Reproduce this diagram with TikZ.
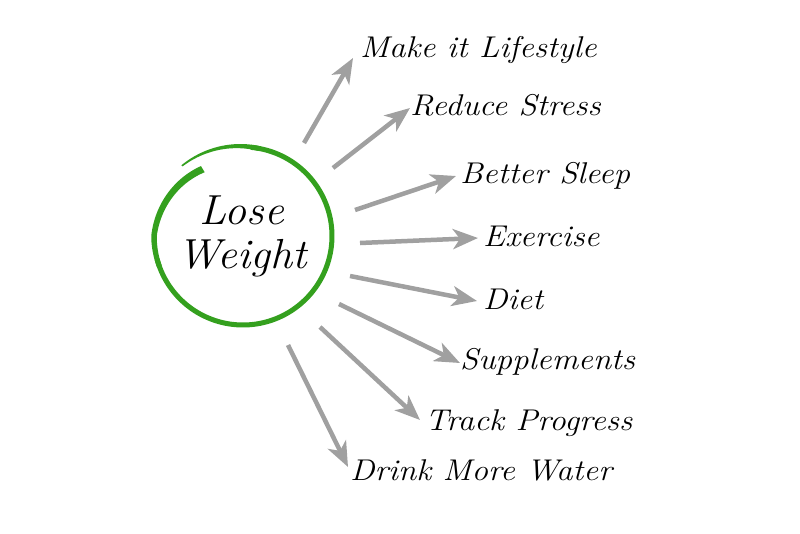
\documentclass[tikz,border=0pt]{standalone}
\usetikzlibrary{arrows.meta}
\definecolor{ringgreen}{RGB}{52,160,30}
\definecolor{arrowgray}{RGB}{160,160,160}
\begin{document}
\begin{tikzpicture}[x=1pt,y=-1pt,
  declare function={
    rA(\t)=78+11*min(1,(\t-121)/59);
    wA(\t)=3.6-1.1*(\t-121)/79;
    rE(\t)=89+4*(\t-440)/51;
    wE(\t)=2.5-1.7*(\t-440)/51;
  },
  lbl/.style={anchor=west,inner sep=0pt,xscale=1.1,font=\fontsize{30}{33}\selectfont\itshape},
  ptr/.style={draw=arrowgray,line width=4.5pt,-{Stealth[length=25pt,width=20pt,inset=7pt]}},
  ring/.style={fill=ringgreen}]
\useasboundingbox (0,0) rectangle (800,533);
% central hand-drawn ring (spiral-like stroke)
\fill[ring] plot[smooth,samples=40,domain=121:200] ({243+(rA(\x)+wA(\x))*cos(\x)},{236-(rA(\x)+wA(\x))*sin(\x)})
  -- plot[smooth,samples=40,domain=200:121] ({243+(rA(\x)-wA(\x))*cos(\x)},{236-(rA(\x)-wA(\x))*sin(\x)}) -- cycle;
\draw[draw=ringgreen,line width=5pt] plot[smooth,samples=120,domain=195:445] ({243+89*cos(\x)},{236-89*sin(\x)});
\fill[ring] plot[smooth,samples=30,domain=440:491] ({243+(rE(\x)+wE(\x))*cos(\x)},{236-(rE(\x)+wE(\x))*sin(\x)})
  -- plot[smooth,samples=30,domain=491:440] ({243+(rE(\x)-wE(\x))*cos(\x)},{236-(rE(\x)-wE(\x))*sin(\x)}) -- cycle;
\node[inner sep=0pt,xscale=1.05,font=\fontsize{42}{46}\selectfont\itshape,align=center] (center) at (242,236) {Lose\\[-2pt]Weight};
% labels
\node[lbl] (l1) at (360,50) {Make it Lifestyle};
\node[lbl] (l2) at (410,105) {Reduce Stress};
\node[lbl] (l3) at (460,176) {Better Sleep};
\node[lbl] (l4) at (483,236) {Exercise};
\node[lbl] (l5) at (483,299) {Diet};
\node[lbl] (l6) at (460,362) {Supplements};
\node[lbl] (l7) at (425,423) {Track Progress};
\node[lbl] (l8) at (350,470) {Drink More Water};
% arrow ends
\coordinate (t1) at (304,143); \coordinate (h1) at (353,58);
\coordinate (t2) at (333,168); \coordinate (h2) at (410,108);
\coordinate (t3) at (355,210); \coordinate (h3) at (456,176);
\coordinate (t4) at (360,243); \coordinate (h4) at (478,238);
\coordinate (t5) at (350,276); \coordinate (h5) at (477,301);
\coordinate (t6) at (339,304); \coordinate (h6) at (460,363);
\coordinate (t7) at (320,327); \coordinate (h7) at (420,420);
\coordinate (t8) at (288,345); \coordinate (h8) at (348,467);
\foreach \i in {1,...,8} \draw[ptr] (t\i) -- (h\i);
\end{tikzpicture}
\end{document}
